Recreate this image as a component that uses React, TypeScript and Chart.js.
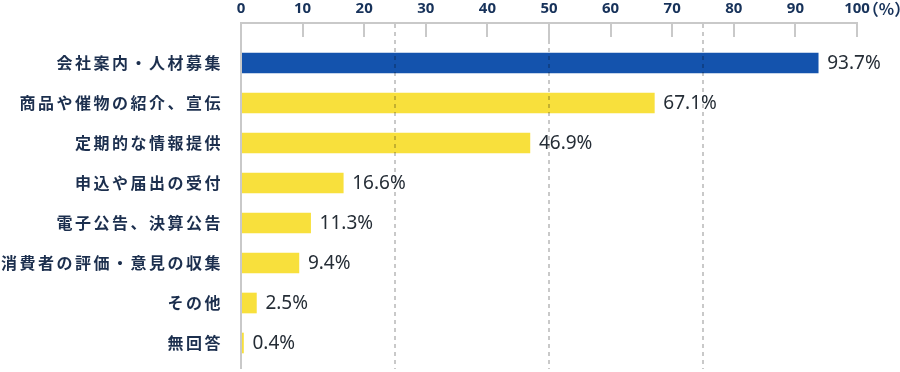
import React, { useEffect, useRef } from "react";
import { Chart, registerables } from "chart.js";

Chart.register(...registerables);

const categories = [
  "会社案内・人材募集",
  "商品や催物の紹介、宣伝",
  "定期的な情報提供",
  "申込や届出の受付",
  "電子公告、決算公告",
  "消費者の評価・意見の収集",
  "その他",
  "無回答",
];
const values = [93.7, 67.1, 46.9, 16.6, 11.3, 9.4, 2.5, 0.4];
const barColors = ["#1453ad", "#f8e03c", "#f8e03c", "#f8e03c", "#f8e03c", "#f8e03c", "#f8e03c", "#f8e03c"];
const xTicks = [0, 10, 20, 30, 40, 50, 60, 70, 80, 90, 100];
const dashedGrid = [25, 50, 75];
const unitLabel = "（%）";

const overlayPlugin = {
  id: "overlay",
  beforeDraw(chart: any) {
    (chart.ctx as any).letterSpacing = "2.5px";
  },
  afterDatasetsDraw(chart: any) {
    const ctx = chart.ctx;
    const xs = chart.scales.x;
    const area = chart.chartArea;
    const axisY = area.top - 20;
    const bottomY = area.bottom + 6;
    ctx.save();
    (ctx as any).letterSpacing = "0px";

    // dashed grid lines
    ctx.strokeStyle = "rgba(0,0,0,0.21)";
    ctx.lineWidth = 2;
    ctx.setLineDash([4, 4]);
    for (const v of dashedGrid) {
      const px = Math.round(xs.getPixelForValue(v));
      ctx.beginPath();
      ctx.moveTo(px, axisY + 1);
      ctx.lineTo(px, bottomY);
      ctx.stroke();
    }
    ctx.setLineDash([]);

    // axis lines and tick marks
    ctx.strokeStyle = "#c9c9c9";
    const x0 = Math.round(xs.getPixelForValue(0));
    const x100 = Math.round(xs.getPixelForValue(100));
    ctx.beginPath();
    ctx.moveTo(x0 - 1, axisY);
    ctx.lineTo(x100 + 1, axisY);
    ctx.stroke();
    ctx.beginPath();
    ctx.moveTo(x0, axisY - 1);
    ctx.lineTo(x0, bottomY);
    ctx.stroke();
    for (const v of xTicks) {
      if (v === 0) continue;
      const px = Math.round(xs.getPixelForValue(v));
      ctx.beginPath();
      ctx.moveTo(px, axisY);
      ctx.lineTo(px, axisY + (v === 50 ? 18 : 14));
      ctx.stroke();
    }

    // tick labels
    ctx.fillStyle = "#17325a";
    ctx.font = "bold 15px 'Noto Sans'";
    ctx.textAlign = "center";
    ctx.textBaseline = "middle";
    for (const v of xTicks) {
      ctx.fillText(String(v), xs.getPixelForValue(v), 9);
    }
    const w100 = ctx.measureText("100").width;
    ctx.textAlign = "left";
    ctx.font = "bold 16px 'Noto Sans CJK JP'";
    ctx.fillText(unitLabel, xs.getPixelForValue(100) + w100 / 2 - 7, 9);

    // data labels
    const meta = chart.getDatasetMeta(0);
    ctx.fillStyle = "#252d36";
    ctx.font = "19px 'Noto Sans'";
    ctx.textAlign = "left";
    ctx.textBaseline = "middle";
    meta.data.forEach((el: any, i: number) => {
      ctx.fillText(values[i].toFixed(1) + "%", el.x + 9, el.y + 1);
    });
    ctx.restore();
  },
};

export default function App() {
  const ref = useRef<HTMLCanvasElement>(null);
  useEffect(() => {
    const chart = new Chart(ref.current as HTMLCanvasElement, {
      type: "bar",
      data: {
        labels: categories,
        datasets: [
          {
            data: values,
            backgroundColor: barColors,
            borderWidth: 0,
            barThickness: 20,
          },
        ],
      },
      options: {
        indexAxis: "y",
        responsive: false,
        animation: false,
        layout: { padding: { top: 43, bottom: 9, right: 43, left: 0 } },
        plugins: { legend: { display: false }, tooltip: { enabled: false } },
        scales: {
          x: { type: "linear", min: 0, max: 100, display: false },
          y: {
            grid: { display: false, drawTicks: true, tickLength: 18 },
            border: { display: false },
            ticks: {
              color: "#1c2f4e",
              padding: 0,
              font: { family: "'Noto Sans CJK JP'", size: 16, weight: "bold" },
            },
            afterFit: (s: any) => {
              s.width = 241;
              s.paddingTop = 0;
              s.paddingBottom = 0;
            },
          },
        },
      },
      plugins: [overlayPlugin],
    } as any);
    return () => chart.destroy();
  }, []);
  return (
    <div style={{ position: "fixed", left: 0, top: 0, width: 900, height: 372, background: "#fff" }}>
      <canvas ref={ref} width={900} height={372} style={{ display: "block" }} />
    </div>
  );
}
